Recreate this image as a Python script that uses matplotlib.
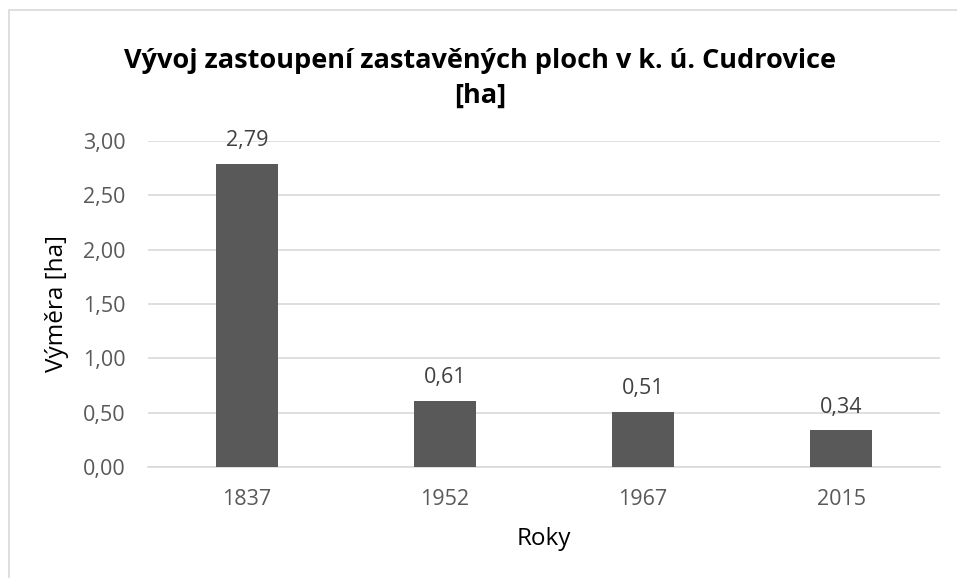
import matplotlib
matplotlib.use("Agg")
import matplotlib.pyplot as plt
from matplotlib.patches import Rectangle

years = ["1837", "1952", "1967", "2015"]
values = [2.79, 0.61, 0.51, 0.34]
yticks = [0.0, 0.5, 1.0, 1.5, 2.0, 2.5, 3.0]

plt.rcParams['font.family'] = ['Open Sans', 'DejaVu Sans']
W, H = 957, 578
fig = plt.figure(figsize=(W/100, H/100), dpi=100)
fig.patch.set_facecolor('white')

# chart border
fig.patches.append(Rectangle((9/W, 0 - 0.01), 1.2, (H - 10)/H + 0.01, transform=fig.transFigure,
                             fill=False, edgecolor='#d9d9d9', linewidth=1.2, zorder=0))

left, right = 148/W, 940/W
top, bottom = 1 - 141/H, 1 - 467/H
ax = fig.add_axes([left, bottom, right - left, top - bottom])
x = range(len(years))
bars = ax.bar(x, values, width=0.31, color='#595959', zorder=3)
ax.set_xlim(-0.5, len(years) - 0.5)
ax.set_ylim(0, 3.0)
ax.set_yticks(yticks)
ax.set_yticklabels([f"{v:.2f}".replace('.', ',') for v in yticks], fontsize=15.5, color='#595959')
ax.set_xticks(list(x))
ax.set_xticklabels(years, fontsize=15.5, color='#595959')
ax.tick_params(axis='y', length=0, pad=16)
ax.tick_params(axis='x', length=0, pad=16)
ax.yaxis.grid(True, color='#d9d9d9', linewidth=1.2, zorder=0)
ax.set_axisbelow(True)
for s in ax.spines.values():
    s.set_visible(False)
ax.spines['bottom'].set_visible(True)
ax.spines['bottom'].set_color('#d9d9d9')
ax.spines['bottom'].set_linewidth(1.2)

for i, v in enumerate(values):
    ax.annotate(f"{v:.2f}".replace('.', ','), (i, v), xytext=(0, 9), textcoords='offset points',
                ha='center', va='bottom', fontsize=15.5, color='#404040')

ax.set_ylabel("Výměra [ha]", fontsize=17.5, color='black', labelpad=10)
ax.set_xlabel("Roky", fontsize=17.5, color='black', labelpad=12)

fig.text(480/W, 1 - 78/H, "Vývoj zastoupení zastavěných ploch v k. ú. Cudrovice\n[ha]",
         ha='center', va='center', fontsize=19.5, fontweight='bold', color='black', linespacing=1.45)

fig.savefig("out.png", dpi=100)
